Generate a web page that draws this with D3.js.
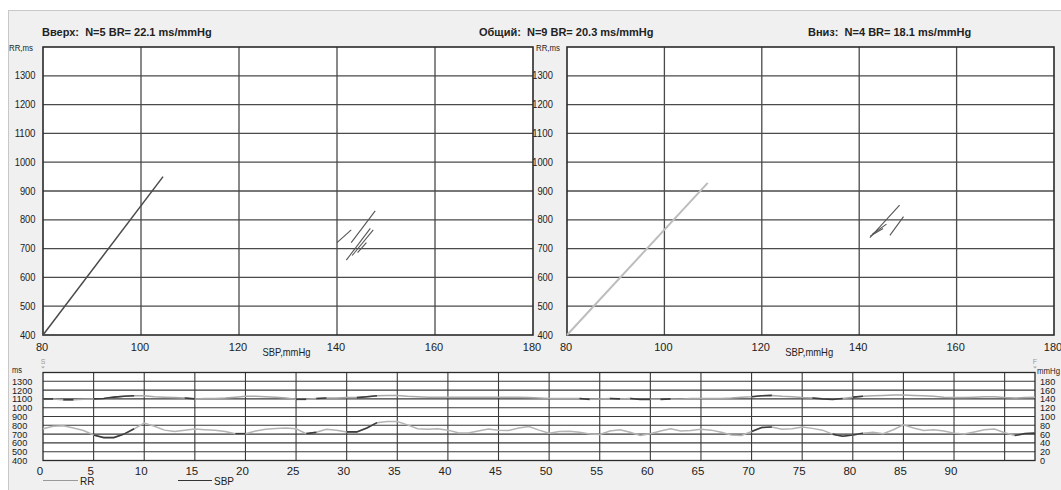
<!DOCTYPE html>
<html><head><meta charset="utf-8">
<script src="https://cdn.jsdelivr.net/npm/d3@7"></script>
<style>
body{margin:0;background:#fff}
svg{display:block}
text{font-family:"Liberation Sans",Arial,sans-serif;fill:#222}
</style>
</head><body>
<svg id="chart" width="1061" height="490"></svg>
<script>
// ---- Baroreflex sequence summary ----
const titles = [
  "Вверх:  N=5 BR= 22.1 ms/mmHg",
  "Общий:  N=9 BR= 20.3 ms/mmHg",
  "Вниз:  N=4 BR= 18.1 ms/mmHg"
];

// Scatter axes
const sbpTicks = [80, 100, 120, 140, 160, 180];
const rrTicks = [400, 500, 600, 700, 800, 900, 1000, 1100, 1200, 1300];

// "Up" sequences: SBP start/end and RR start/end
const upSbp = [[140.0, 142.9], [142.9, 147.8], [141.9, 146.8], [143.1, 147.4], [144.2, 146.0]];
const upRr  = [[721, 765], [721, 831], [660, 770], [676, 765], [686, 721]];
// "Down" sequences
const downSbp = [[142.2, 148.3], [146.3, 149.1], [142.7, 145.6], [142.3, 144.9]];
const downRr  = [[738, 851], [746, 811], [750, 785], [744, 770]];

// Regression lines (SBP, RR end points)
const upFitSbp = [80, 104.5], upFitRr = [400, 950];
const downFitSbp = [80, 108.9], downFitRr = [400, 928];

// Beat-by-beat trend
const beatTicks = [0, 5, 10, 15, 20, 25, 30, 35, 40, 45, 50, 55, 60, 65, 70, 75, 80, 85, 90];
const beatGrid = [5, 10, 15, 20, 25, 30, 35, 40, 45, 50, 55, 60, 65, 70, 75, 80, 85, 90, 95];
const msTicks = [400, 500, 600, 700, 800, 900, 1000, 1100, 1200, 1300];
const mmTicks = [0, 20, 40, 60, 80, 100, 120, 140, 160, 180];

const rr = [760, 790, 795, 770, 740, 690, 660, 660, 700, 760,
            825, 790, 745, 730, 745, 757, 750, 745, 730, 705,
            705, 735, 755, 765, 770, 760, 705, 720, 755, 745,
            725, 725, 770, 830, 843, 843, 805, 760, 755, 760,
            745, 715, 712, 735, 757, 745, 740, 770, 787, 745,
            711, 730, 733, 720, 700, 695, 735, 750, 720, 685,
            705, 735, 760, 735, 740, 755, 745, 720, 690, 685,
            730, 775, 780, 755, 760, 780, 765, 745, 700, 675,
            690, 710, 720, 705, 750, 806, 770, 742, 750, 735,
            711, 700, 725, 750, 757, 715, 685, 705, 711];
const sbp = [140, 140, 138, 138, 139, 140, 141, 144, 146, 147,
             147, 145, 144, 143, 142, 140, 141, 141, 142, 144,
             146, 146, 145, 144, 142, 139, 139, 141, 142, 142,
             143, 143, 145, 147, 148, 148, 146, 145, 144, 144,
             144, 144, 144, 144, 144, 144, 144, 144, 143, 142,
             141, 141, 141, 141, 139, 140, 141, 140, 141, 139,
             139, 139, 140, 139, 141, 141, 141, 141, 142, 144,
             145, 147, 148, 146, 145, 143, 142, 140, 139, 141,
             144, 146, 147, 148, 149, 149, 148, 147, 146, 144,
             143, 143, 144, 145, 145, 143, 142, 143, 144];
// Beats that belong to detected sequences (drawn dark)
const rrSeq  = [[5, 9], [19, 20], [26, 27], [30, 33], [70, 72], [78, 81], [96, 98]];
const sbpSeq = [[0, 1], [2, 3], [5, 9], [14, 15], [25, 26], [27, 28], [31, 33],
                [53, 54], [56, 57], [58, 60], [61, 62], [70, 72], [76, 79], [80, 81]];

const svg = d3.select("#chart");

// window background
svg.append("rect").attr("x", 8).attr("y", 10).attr("width", 1053).attr("height", 480).attr("fill", "#f0f0f0");
svg.append("line").attr("x1", 8).attr("x2", 1061).attr("y1", 10.5).attr("y2", 10.5).attr("stroke", "#c8c8c8");
svg.append("line").attr("x1", 8.5).attr("x2", 8.5).attr("y1", 10).attr("y2", 490).attr("stroke", "#c8c8c8");

// titles
const titleX = [42, 479, 808];
titles.forEach((t, i) => {
  svg.append("text").attr("x", titleX[i]).attr("y", 35.5)
    .attr("font-size", 11).attr("font-weight", "bold").attr("xml:space", "preserve").text(t);
});

function scatterPanel(left, right, labelRight, unitX, segSbp, segRr, fitSbp, fitRr, fitColor, fitWidth) {
  const x = d3.scaleLinear().domain([80, 180]).range([left, right]);
  const y = d3.scaleLinear().domain([400, 1400]).range([335, 47]);
  const g = svg.append("g");
  g.append("rect").attr("x", left).attr("y", 47).attr("width", right - left).attr("height", 288).attr("fill", "#fff");
  // grid
  g.selectAll(".h").data(rrTicks.filter(v => v > 400)).join("line")
    .attr("x1", left).attr("x2", right).attr("y1", d => y(d)).attr("y2", d => y(d))
    .attr("stroke", "#4a4a4a").attr("stroke-width", 1.3);
  g.selectAll(".v").data(sbpTicks.filter(v => v > 80 && v < 180)).join("line")
    .attr("y1", 47).attr("y2", 335).attr("x1", d => x(d)).attr("x2", d => x(d))
    .attr("stroke", "#4a4a4a").attr("stroke-width", 1.3);
  g.append("rect").attr("x", left).attr("y", 47).attr("width", right - left).attr("height", 288)
    .attr("fill", "none").attr("stroke", "#2a2a2a").attr("stroke-width", 1.6);
  // axis labels
  g.selectAll(".yl").data(rrTicks).join("text")
    .attr("x", labelRight).attr("y", d => y(d) + 3.5).attr("text-anchor", "end")
    .attr("font-size", 10).attr("textLength", d => String(d).length * 5.2)
    .attr("lengthAdjust", "spacingAndGlyphs").text(d => d);
  g.selectAll(".xl").data(sbpTicks).join("text")
    .attr("x", d => x(d) - 1).attr("y", 351).attr("text-anchor", "middle")
    .attr("font-size", 11).text(d => d);
  g.append("text").attr("x", unitX).attr("y", 50.5).attr("font-size", 9.5)
    .attr("textLength", 24).attr("lengthAdjust", "spacingAndGlyphs").text("RR,ms");
  g.append("text").attr("x", x(124.8)).attr("y", 355.5).attr("font-size", 10.5)
    .attr("textLength", 48).attr("lengthAdjust", "spacingAndGlyphs").text("SBP,mmHg");
  // regression line
  g.append("line").attr("x1", x(fitSbp[0])).attr("y1", y(fitRr[0]))
    .attr("x2", x(fitSbp[1])).attr("y2", y(fitRr[1]))
    .attr("stroke", fitColor).attr("stroke-width", fitWidth);
  // sequences
  g.selectAll(".seg").data(segSbp.map((s, i) => ({ s, r: segRr[i] }))).join("line")
    .attr("x1", d => x(d.s[0])).attr("y1", d => y(d.r[0]))
    .attr("x2", d => x(d.s[1])).attr("y2", d => y(d.r[1]))
    .attr("stroke", "#555").attr("stroke-width", 1.1);
}

scatterPanel(43, 533, 35.5, 9, upSbp, upRr, upFitSbp, upFitRr, "#4a4a4a", 1.5);
scatterPanel(567, 1054, 553, 536, downSbp, downRr, downFitSbp, downFitRr, "#bdbdbd", 2);

// ---- trend panel ----
const bx = d3.scaleLinear().domain([0, 98]).range([43, 1035]);
const yMs = d3.scaleLinear().domain([400, 1400]).range([460.5, 372.5]);
const yMm = d3.scaleLinear().domain([0, 200]).range([460.5, 372.5]);
const tg = svg.append("g");
tg.append("rect").attr("x", 43).attr("y", 372.5).attr("width", 992).attr("height", 88).attr("fill", "#fff");
tg.selectAll(".h").data(msTicks.filter(v => v > 400)).join("line")
  .attr("x1", 43).attr("x2", 1035).attr("y1", d => yMs(d)).attr("y2", d => yMs(d))
  .attr("stroke", "#3a3a3a").attr("stroke-width", 1.1);
tg.selectAll(".v").data(beatGrid).join("line")
  .attr("y1", 372.5).attr("y2", 460.5).attr("x1", d => bx(d)).attr("x2", d => bx(d))
  .attr("stroke", "#3a3a3a").attr("stroke-width", 1.1);
tg.append("rect").attr("x", 43).attr("y", 372.5).attr("width", 992).attr("height", 88)
  .attr("fill", "none").attr("stroke", "#2a2a2a").attr("stroke-width", 1.3);

tg.selectAll(".yl").data(msTicks).join("text")
  .attr("x", 12).attr("y", d => yMs(d) + 3.4).attr("font-size", 9)
  .attr("textLength", d => String(d).length * 5.1).attr("lengthAdjust", "spacingAndGlyphs").text(d => d);
tg.append("text").attr("x", 12).attr("y", 373).attr("font-size", 8.5)
  .attr("textLength", 10).attr("lengthAdjust", "spacingAndGlyphs").text("ms");
tg.selectAll(".yr").data(mmTicks).join("text")
  .attr("x", 1040).attr("y", d => yMm(d) + 3.4).attr("font-size", 9)
  .attr("textLength", d => String(d).length * 5.1).attr("lengthAdjust", "spacingAndGlyphs").text(d => d);
tg.append("text").attr("x", 1037).attr("y", 374).attr("font-size", 8.5)
  .attr("textLength", 23).attr("lengthAdjust", "spacingAndGlyphs").text("mmHg");
tg.selectAll(".xl").data(beatTicks).join("text")
  .attr("x", d => bx(d) - 3).attr("y", 474.5).attr("text-anchor", "middle")
  .attr("font-size", 11.5).text(d => d);

// start / finish markers
[["S", 0], ["F", 98]].forEach(([s, v]) => {
  tg.append("text").attr("x", bx(v)).attr("y", 364).attr("text-anchor", "middle")
    .attr("font-size", 7).style("fill", "#999").text(s);
  tg.append("path").attr("d", `M${bx(v) - 2},366.5 L${bx(v) + 2},366.5 L${bx(v)},368.5 Z`).attr("fill", "#aaa");
});

// trend lines
const beats = d3.range(rr.length);
const lineMs = d3.line().x(i => bx(i)).y(i => yMs(rr[i]));
const lineMm = d3.line().x(i => bx(i)).y(i => yMm(sbp[i]));
tg.append("path").attr("d", lineMs(beats)).attr("fill", "none").attr("stroke", "#b4b4b4").attr("stroke-width", 1.5);
tg.append("path").attr("d", lineMm(beats)).attr("fill", "none").attr("stroke", "#a8a8a8").attr("stroke-width", 1.5);
rrSeq.forEach(([a, b]) => {
  tg.append("path").attr("d", lineMs(d3.range(a, b + 1))).attr("fill", "none").attr("stroke", "#3c3c3c").attr("stroke-width", 1.6);
});
sbpSeq.forEach(([a, b]) => {
  tg.append("path").attr("d", lineMm(d3.range(a, b + 1))).attr("fill", "none").attr("stroke", "#3c3c3c").attr("stroke-width", 1.6);
});

// legend
const lg = svg.append("g");
lg.append("line").attr("x1", 43).attr("x2", 78).attr("y1", 480.5).attr("y2", 480.5).attr("stroke", "#9a9a9a");
lg.append("text").attr("x", 80).attr("y", 485).attr("font-size", 10).text("RR");
lg.append("line").attr("x1", 178).attr("x2", 212).attr("y1", 480.5).attr("y2", 480.5).attr("stroke", "#333");
lg.append("text").attr("x", 214).attr("y", 485).attr("font-size", 10).text("SBP");
</script>
</body></html>
